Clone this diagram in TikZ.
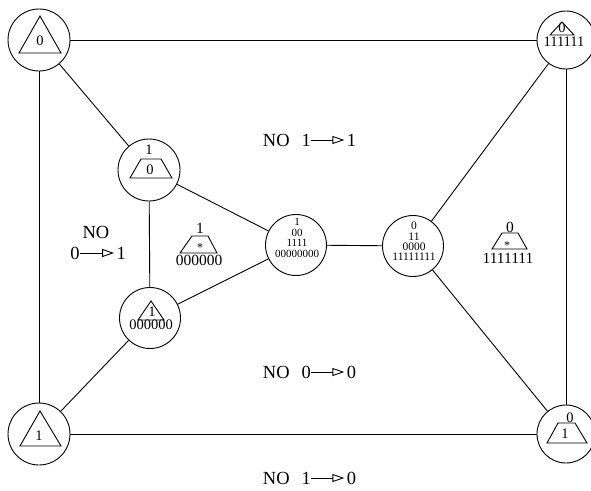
\documentclass[tikz,border=0pt]{standalone}
\usepackage{fontspec}
\setmainfont{Liberation Serif}
\usetikzlibrary{arrows.meta,positioning}
\begin{document}
\begin{tikzpicture}[x=1pt,y=-1pt,line width=0.9pt,
  circ/.style={draw,circle,inner sep=0pt,minimum size=#1},
  lbl/.style={inner sep=0pt,font=\fontsize{18.5}{20}\selectfont},
  ntxt/.style={inner sep=0pt,font=\fontsize{14.5}{16}\selectfont},
  ftxt/.style={inner sep=0pt,font=\fontsize{15.5}{16}\selectfont},
  star/.style={inner sep=0pt,font=\fontsize{12}{13}\selectfont},
  stxt/.style={inner sep=0pt,align=center,font=\fontsize{#1}{10.4}\selectfont},
  arr/.style={-{Triangle[open,length=12pt,width=8pt]},shorten >=2pt}]
\useasboundingbox (0,0) rectangle (591,490);

% circles
\node[circ=62pt] (A) at (39,40) {};
\node[circ=58pt] (B) at (566,40) {};
\node[circ=62pt] (BL) at (39,434) {};
\node[circ=58pt] (BR) at (566,434) {};
\node[circ=62pt] (C) at (149,170) {};
\node[circ=61pt] (D) at (150,318) {};
\node[circ=61pt] (E) at (296,245) {};
\node[circ=61pt] (F) at (413,246) {};

% connectors
\draw (A) -- (B);
\draw (A) -- (BL);
\draw (BL) -- (BR);
\draw (B) -- (BR);
\draw (A) -- (C);
\draw (C) -- (D);
\draw (C) -- (E);
\draw (D) -- (E);
\draw (D) -- (BL);
\draw (E) -- (F);
\draw (F) -- (B);
\draw (F) -- (BR);

% A contents
\draw (40,16) -- (61,53) -- (19,53) -- cycle;
\node[ntxt] (a0) at (40,41) {0};
% B contents
\draw (562,22) -- (574,35) -- (550,35) -- cycle;
\node[ntxt] (b0) at (562,28) {0};
\node[ntxt] (b1) at (564,42) {111111};
% BL contents
\draw (40,411) -- (61,446) -- (20,446) -- cycle;
\node[ntxt] (bl1) at (39,436) {1};
% BR contents
\draw (558,423) -- (575,423) -- (587,443) -- (547,443) -- cycle;
\node[ntxt] (br0) at (570,417.5) {0};
\node[ntxt] (br1) at (565,434) {1};
% C contents
\node[ntxt] (c1) at (149,150) {1};
\draw (141,159) -- (161,159) -- (172,178) -- (130,178) -- cycle;
\node[ntxt] (c0) at (150,170) {0};
% D contents
\draw (151,301) -- (164,320) -- (138,320) -- cycle;
\node[ntxt] (d1) at (152,312) {1};
\node[ntxt] (d0) at (151,325) {000000};
% E, F contents
\node[stxt=11] (et) at (297,238) {1\\00\\1111\\00000000};
\node[stxt=11.5] (ft) at (414,241.5) {0\\11\\0000\\11111111};

% free trapezoids
\node[ftxt] (t1a) at (200,228) {1};
\draw (192,236) -- (208,236) -- (217,253) -- (180,253) -- cycle;
\node[star] (t1s) at (200,247.5) {*};
\node[ftxt] (t1b) at (199,260) {000000};

\node[ftxt] (t2a) at (510,227) {0};
\draw (502,233) -- (518,233) -- (527,249) -- (492,249) -- cycle;
\node[star] (t2s) at (507,245.5) {*};
\node[ftxt] (t2b) at (508,258) {1111111};

% labels
\node[lbl,anchor=west] (l1a) at (262.5,140) {NO\hspace{0.65em}1};
\node[lbl,right=35pt of l1a] (l1b) {1};
\draw[arr] (l1a.east) -- (l1b.west);

\node[lbl] (l2) at (96,232) {NO};
\node[lbl,anchor=west] (l2a) at (70,253) {0};
\node[lbl,right=36pt of l2a] (l2b) {1};
\draw[arr] (l2a.east) -- (l2b.west);

\node[lbl,anchor=west] (l3a) at (262.5,372) {NO\hspace{0.65em}0};
\node[lbl,right=35pt of l3a] (l3b) {0};
\draw[arr] (l3a.east) -- (l3b.west);

\node[lbl,anchor=west] (l4a) at (262.5,478) {NO\hspace{0.65em}1};
\node[lbl,right=35pt of l4a] (l4b) {0};
\draw[arr] (l4a.east) -- (l4b.west);
\end{tikzpicture}
\end{document}
